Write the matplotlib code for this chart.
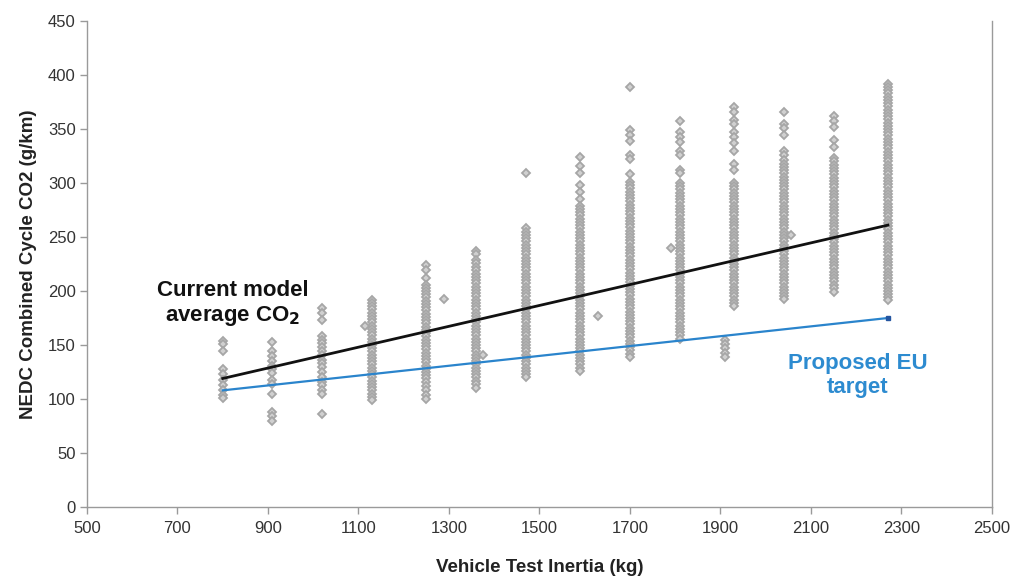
import matplotlib
matplotlib.use("Agg")
import matplotlib.pyplot as plt

# ---- data ----
inertia_classes = [800, 910, 1020, 1130, 1250, 1360, 1470, 1590, 1700, 1810, 1930, 2040, 2150, 2270]

co2_800 = [154, 151, 144, 128, 123, 118, 113, 108, 104, 101]
co2_910 = [153, 144, 140, 135, 131, 128, 124, 118, 114, 105, 88, 84, 80]
co2_1020 = [184, 180, 173, 158, 155, 152, 148, 144, 141, 136, 133, 130, 125, 120, 116, 113, 108, 105, 86]
co2_1130 = [192, 189, 186, 183, 180, 177, 174, 171, 168, 165, 162, 159, 156, 153, 150, 147, 144,
            141, 138, 135, 132, 129, 126, 123, 120, 117, 114, 111, 108, 105, 102, 99]
co2_1250 = [224, 219, 212, 206, 203, 200, 197, 194, 191, 188, 185, 182, 179, 176, 173, 170, 167, 164,
            161, 158, 155, 152, 149, 146, 143, 140, 137, 134, 131, 128, 125, 122, 119, 116, 112, 108, 104, 100]
co2_1360 = [237, 234, 229, 226, 222, 219, 216, 213, 210, 207, 204, 201, 198, 195, 192, 189, 186, 183,
            180, 177, 174, 171, 168, 165, 162, 159, 156, 153, 150, 147, 144, 141, 138, 135, 132, 129,
            126, 123, 120, 117, 114, 110]
co2_1470 = [309, 258, 255, 252, 249, 246, 243, 240, 237, 234, 231, 228, 225, 222, 219, 216, 213, 210,
            207, 204, 201, 198, 195, 192, 189, 186, 183, 180, 177, 174, 171, 168, 165, 162, 159, 156,
            153, 150, 147, 144, 141, 138, 135, 132, 129, 126, 123, 120]
co2_1590 = [324, 316, 309, 298, 292, 285, 279, 276, 273, 270, 267, 264, 261, 258, 255, 252, 249, 246,
            243, 240, 237, 234, 231, 228, 225, 222, 219, 216, 213, 210, 207, 204, 201, 198, 195, 192,
            189, 186, 183, 180, 177, 174, 171, 168, 165, 162, 159, 156, 153, 150, 147, 144, 141, 138,
            135, 132, 129, 126]
co2_1700 = [389, 349, 344, 339, 326, 322, 308, 301, 298, 295, 292, 289, 286, 283, 280, 277, 274, 271,
            268, 265, 262, 259, 256, 253, 250, 247, 244, 241, 238, 235, 232, 229, 226, 223, 220, 217,
            214, 211, 208, 205, 202, 199, 196, 193, 190, 187, 184, 181, 178, 175, 172, 169, 166, 163,
            160, 157, 154, 151, 148, 145, 142, 139]
co2_1810 = [357, 347, 343, 338, 330, 326, 312, 309, 300, 297, 294, 291, 288, 285, 282, 279, 276, 273,
            270, 267, 264, 261, 258, 255, 252, 249, 246, 243, 240, 237, 234, 231, 228, 225, 222, 219,
            216, 213, 210, 207, 204, 201, 198, 195, 192, 189, 186, 183, 180, 177, 174, 171, 168, 165,
            162, 159, 156]
co2_1930 = [370, 366, 358, 355, 347, 343, 337, 330, 318, 312, 300, 297, 294, 291, 288, 285, 282, 279,
            276, 273, 270, 267, 264, 261, 258, 255, 252, 249, 246, 243, 240, 237, 234, 231, 228, 225,
            222, 219, 216, 213, 210, 207, 204, 201, 198, 195, 192, 189, 186]
co2_2040 = [366, 355, 351, 344, 330, 326, 321, 318, 315, 312, 309, 306, 303, 300, 297, 294, 291, 288,
            285, 282, 279, 276, 273, 270, 267, 264, 261, 258, 255, 252, 249, 246, 243, 240, 237, 234,
            231, 228, 225, 222, 219, 216, 213, 210, 207, 204, 201, 198, 195, 193]
co2_2150 = [362, 357, 352, 340, 333, 323, 320, 317, 314, 311, 308, 305, 302, 299, 296, 293, 290, 287,
            284, 281, 278, 275, 272, 269, 266, 263, 260, 257, 254, 251, 248, 245, 242, 239, 236, 233,
            230, 227, 224, 221, 218, 215, 212, 209, 206, 203, 199]
co2_2270 = [392, 389, 386, 383, 380, 377, 374, 371, 368, 365, 362, 359, 356, 353, 350, 347, 344, 341,
            338, 335, 332, 329, 326, 323, 320, 317, 314, 311, 308, 305, 302, 299, 296, 293, 290, 287,
            284, 281, 278, 275, 272, 269, 266, 263, 260, 257, 254, 251, 248, 245, 242, 239, 236, 233,
            230, 227, 224, 221, 218, 215, 212, 209, 206, 203, 200, 197, 194, 192]

co2_columns = [co2_800, co2_910, co2_1020, co2_1130, co2_1250, co2_1360, co2_1470,
               co2_1590, co2_1700, co2_1810, co2_1930, co2_2040, co2_2150, co2_2270]

# off-class points
extra_inertia = [1115, 1290, 1375, 1630, 1790, 1910, 1910, 1910, 1910, 1910, 2055]
extra_co2 = [168, 193, 141, 177, 240, 155, 151, 147, 143, 139, 252]

# fitted lines
line_x = [800, 2270]
current_avg = [119, 261]
eu_target = [108, 175]

x_ticks = [500, 700, 900, 1100, 1300, 1500, 1700, 1900, 2100, 2300, 2500]
y_ticks = [0, 50, 100, 150, 200, 250, 300, 350, 400, 450]

# ---- plot ----
fam = ['Liberation Sans Narrow', 'Liberation Sans', 'DejaVu Sans']
wide = ['Liberation Sans', 'DejaVu Sans']
plt.rcParams['font.family'] = fam

fig = plt.figure(figsize=(10.17, 5.76), dpi=100)
ax = fig.add_axes([0.0855, 0.1198, 0.8899, 0.8437])

pts_x, pts_y = [], []
for xc, vals in zip(inertia_classes, co2_columns):
    pts_x.extend([xc] * len(vals))
    pts_y.extend(vals)
pts_x.extend(extra_inertia)
pts_y.extend(extra_co2)

ax.plot(pts_x, pts_y, linestyle='none', marker='D', markersize=4.2,
        markerfacecolor='#d0d0d0', markeredgecolor='#a6a6a6', markeredgewidth=1.3, zorder=2)

ax.plot(line_x, current_avg, color='#111111', linewidth=2.0, zorder=3)
ax.plot(line_x, eu_target, color='#2a84cc', linewidth=1.6, zorder=3)
ax.plot([line_x[-1]], [eu_target[-1]], marker='s', markersize=3, color='#2455a0', zorder=4)

ax.set_xlim(500, 2500)
ax.set_ylim(0, 450)
ax.set_xticks(x_ticks)
ax.set_yticks(y_ticks)

for s in ['left', 'bottom', 'right']:
    ax.spines[s].set_color('#9a9a9a')
    ax.spines[s].set_linewidth(1.0)
ax.spines['top'].set_visible(False)

ax.tick_params(axis='both', direction='out', length=5, width=1, color='#9a9a9a',
               labelsize=12, labelcolor='#333333')
ax.tick_params(axis='x', pad=5)
ax.tick_params(axis='y', pad=3)

ax.set_xlabel('Vehicle Test Inertia (kg)', fontsize=13.5, fontweight='bold', color='#222222',
              labelpad=17, family=wide)
ax.set_ylabel('NEDC Combined Cycle CO2 (g/km)', fontsize=13.5, fontweight='bold', color='#222222',
              labelpad=8, family=wide)

ax.text(823, 188, 'Current model\naverage CO$_\\mathbf{2}$', ha='center', va='center',
        fontsize=16, fontweight='bold', color='#111111', linespacing=1.2, family=wide)
ax.text(2204, 122, 'Proposed EU\ntarget', ha='center', va='center',
        fontsize=16, fontweight='bold', color='#2d8bd0', linespacing=1.2, family=wide)

fig.savefig('out.png', dpi=100)
